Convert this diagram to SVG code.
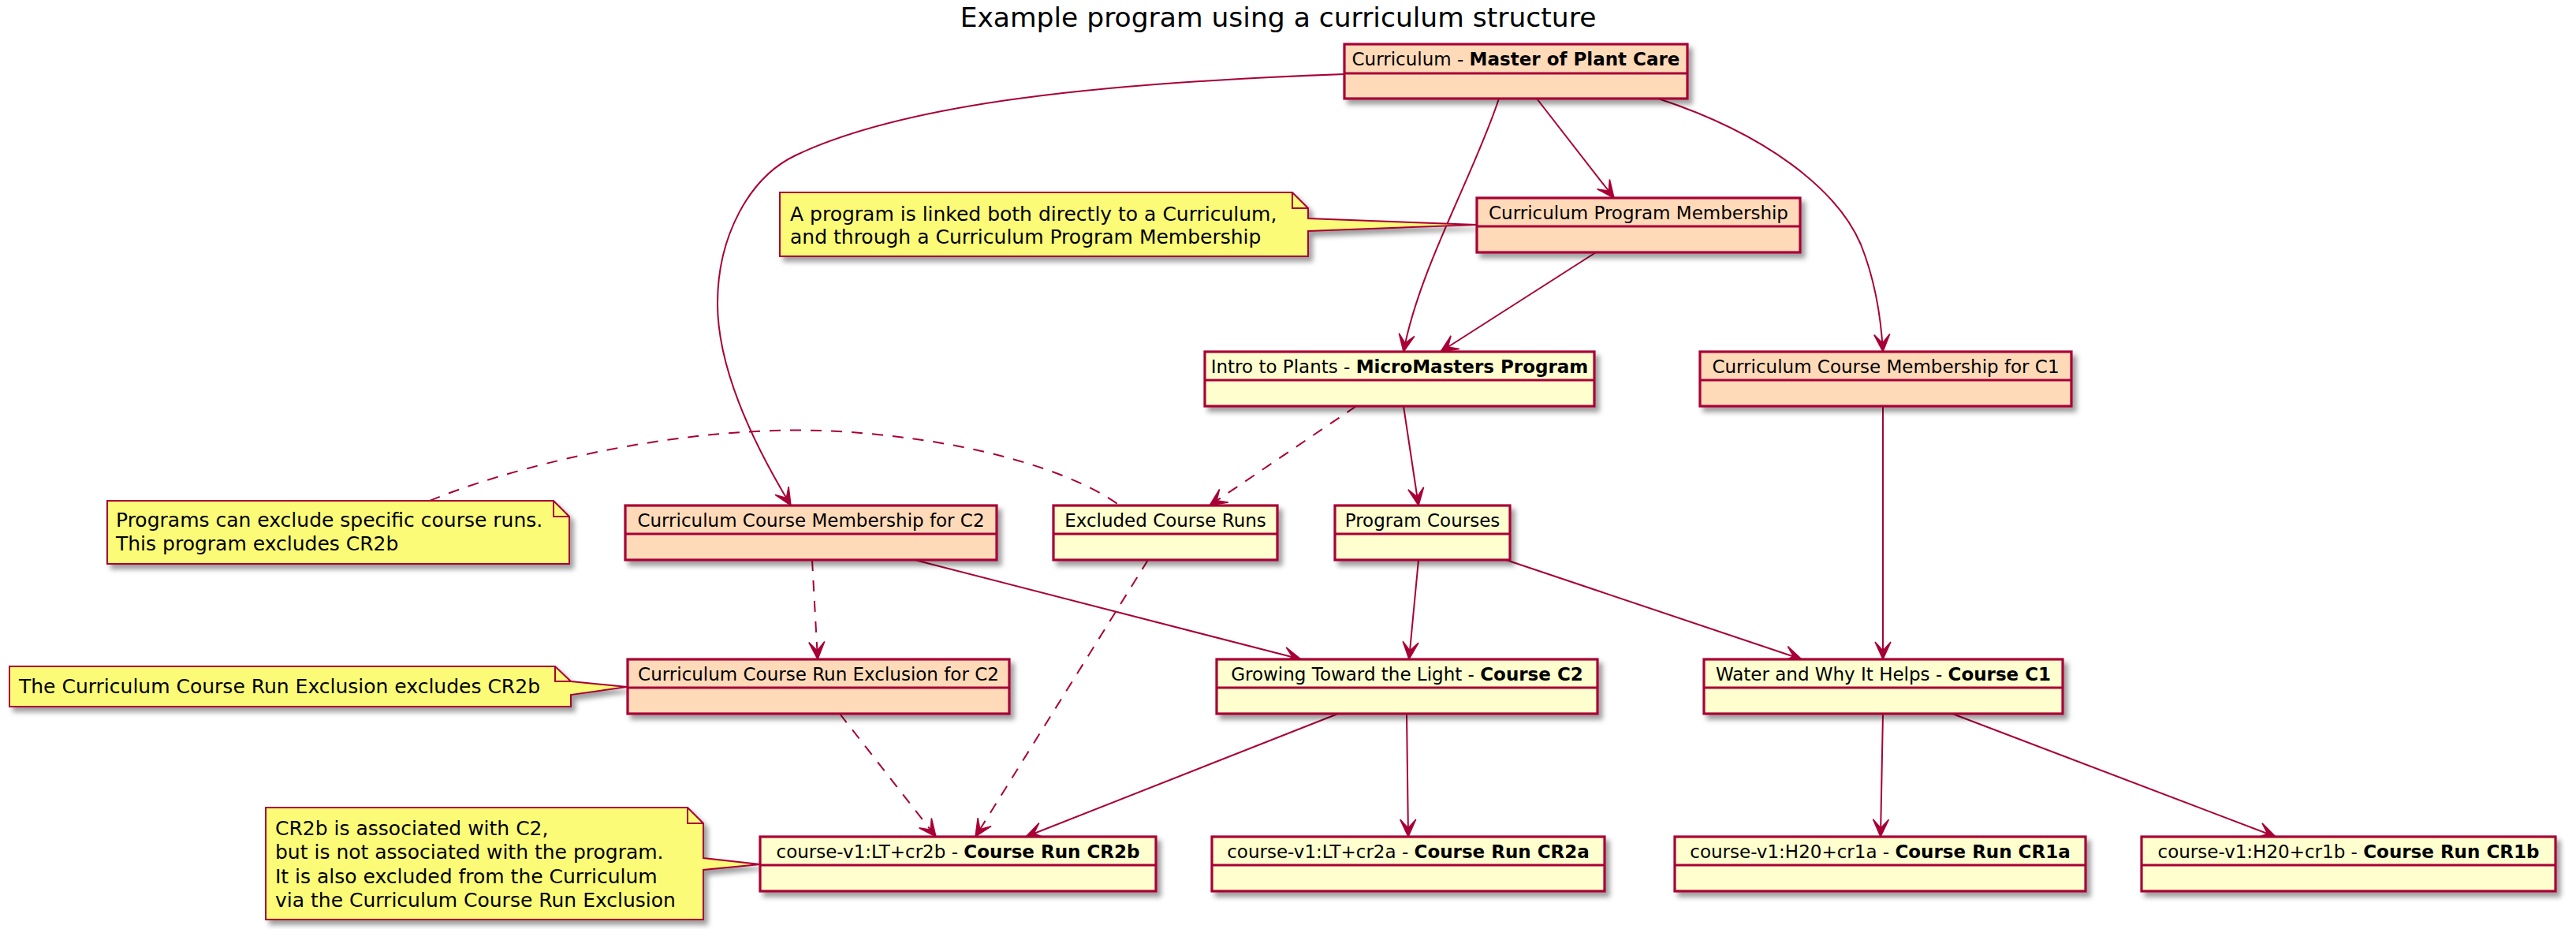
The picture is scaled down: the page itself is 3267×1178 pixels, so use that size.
<svg xmlns="http://www.w3.org/2000/svg" width="3267" height="1178" viewBox="0 0 3267 1178">
<defs>
<filter id="sh" x="-10%" y="-20%" width="130%" height="160%">
<feDropShadow dx="5" dy="6" stdDeviation="3" flood-color="#000" flood-opacity="0.38"/>
</filter>
<marker id="ah" markerUnits="userSpaceOnUse" orient="auto" markerWidth="26" markerHeight="24" viewBox="-24 -12 26 24" refX="0" refY="0" overflow="visible">
<path d="M0,0 L-22,-10 L-11,0 L-22,10 Z" fill="#A80036" stroke="#A80036" stroke-width="1.5" stroke-linejoin="miter"/>
</marker>
</defs>
<style>
.bx{stroke:#A80036;stroke-width:3.2;filter:url(#sh)}
.pe{fill:#FFDAB9}
.ye{fill:#FEFECE}
.dv{stroke:#A80036;stroke-width:3.2}
.nm{font-family:"DejaVu Sans","Liberation Sans",sans-serif;font-size:23px;fill:#000;text-anchor:middle}
.b{font-weight:bold}
.nt{fill:#FBFB77;stroke:#A80036;stroke-width:2;filter:url(#sh)}
.nf{fill:none;stroke:#A80036;stroke-width:2}
.ntx{font-family:"DejaVu Sans","Liberation Sans",sans-serif;font-size:25px;fill:#000}
.ln{fill:none;stroke:#A80036;stroke-width:2}
.ar{marker-end:url(#ah)}
.da{stroke-dasharray:14,12}
.ttl{font-family:"DejaVu Sans","Liberation Sans",sans-serif;font-size:34.5px;fill:#000;text-anchor:middle}
</style>
<rect width="3267" height="1178" fill="#FFFFFF"/>
<text class="ttl" x="1621" y="34">Example program using a curriculum structure</text>

<g id="connectors">
<path class="ln ar" d="M1949,125 L2047,251"/>
<path class="ln ar" d="M1901,125 C1870,220 1800,340 1780,446"/>
<path class="ln ar" d="M2024,320 L1827,446"/>
<path class="ln ar" d="M2103,125 C2240,170 2330,240 2360,310 C2380,360 2386,410 2388,446"/>
<path class="ln ar" d="M1705,94 C1400,105 1150,130 1009,197 C950,225 910,300 910,385 C910,470 960,570 1003,641"/>
<path class="ln ar da" d="M1720,515 L1534,641"/>
<path class="ln ar" d="M1780,515 L1799,641"/>
<path class="ln da" d="M545,635 C640,595 850,540 1041,546 C1200,552 1350,590 1420,641"/>
<path class="ln ar da" d="M1030,710 L1037,836"/>
<path class="ln ar" d="M1160,710 L1650,836"/>
<path class="ln ar da" d="M1456,710 L1237,1061"/>
<path class="ln ar da" d="M1065,905 L1187,1061"/>
<path class="ln ar" d="M1697,905 L1301,1061"/>
<path class="ln ar" d="M1799,710 L1787,836"/>
<path class="ln ar" d="M1910,710 L2285,836"/>
<path class="ln ar" d="M2388,515 L2388,836"/>
<path class="ln ar" d="M1784,905 L1786,1061"/>
<path class="ln ar" d="M2388,905 L2385,1061"/>
<path class="ln ar" d="M2476,905 L2886,1061"/>
</g>

<g id="note-linked">
<path class="nt" d="M989,244 L1639,244 L1659,264 L1659,277 L1873,285 L1659,293 L1659,325 L989,325 Z"/>
<path class="nf" d="M1639,244 L1639,264 L1659,264"/>
<text class="ntx" x="1002" y="280">A program is linked both directly to a Curriculum,</text>
<text class="ntx" x="1002" y="309">and through a Curriculum Program Membership</text>
</g>
<g id="note-exclude">
<path class="nt" d="M136,635 L702,635 L722,655 L722,715 L136,715 Z"/>
<path class="nf" d="M702,635 L702,655 L722,655"/>
<text class="ntx" x="147" y="668">Programs can exclude specific course runs.</text>
<text class="ntx" x="147" y="698">This program excludes CR2b</text>
</g>
<g id="note-ccre">
<path class="nt" d="M12,845 L704,845 L724,864 L795,871 L724,881 L724,896 L12,896 Z"/>
<path class="nf" d="M704,845 L704,864 L724,864"/>
<text class="ntx" x="24" y="879">The Curriculum Course Run Exclusion excludes CR2b</text>
</g>
<g id="note-cr2b">
<path class="nt" d="M337,1024 L872,1024 L892,1044 L892,1088 L964,1096 L892,1103 L892,1166 L337,1166 Z"/>
<path class="nf" d="M872,1024 L872,1044 L892,1044"/>
<text class="ntx" x="349" y="1059">CR2b is associated with C2,</text>
<text class="ntx" x="349" y="1089">but is not associated with the program.</text>
<text class="ntx" x="349" y="1120">It is also excluded from the Curriculum</text>
<text class="ntx" x="349" y="1150">via the Curriculum Course Run Exclusion</text>
</g>

<g id="curriculum">
<rect class="bx pe" x="1705" y="56" width="435" height="69"/>
<line class="dv" x1="1705" y1="93" x2="2140" y2="93"/>
<text class="nm" x="1922.5" y="83">Curriculum - <tspan class="b">Master of Plant Care</tspan></text>
</g>
<g id="cpm">
<rect class="bx pe" x="1873" y="251" width="410" height="69"/>
<line class="dv" x1="1873" y1="287" x2="2283" y2="287"/>
<text class="nm" x="2078" y="278">Curriculum Program Membership</text>
</g>
<g id="program">
<rect class="bx ye" x="1528" y="446" width="494" height="69"/>
<line class="dv" x1="1528" y1="482" x2="2022" y2="482"/>
<text class="nm" x="1775" y="473">Intro to Plants - <tspan class="b">MicroMasters Program</tspan></text>
</g>
<g id="ccm-c1">
<rect class="bx pe" x="2156" y="446" width="471" height="69"/>
<line class="dv" x1="2156" y1="482" x2="2627" y2="482"/>
<text class="nm" x="2391.5" y="473">Curriculum Course Membership for C1</text>
</g>
<g id="ccm-c2">
<rect class="bx pe" x="793" y="641" width="471" height="69"/>
<line class="dv" x1="793" y1="677" x2="1264" y2="677"/>
<text class="nm" x="1028.5" y="668">Curriculum Course Membership for C2</text>
</g>
<g id="excluded">
<rect class="bx ye" x="1336" y="641" width="284" height="69"/>
<line class="dv" x1="1336" y1="677" x2="1620" y2="677"/>
<text class="nm" x="1478" y="668">Excluded Course Runs</text>
</g>
<g id="program-courses">
<rect class="bx ye" x="1693" y="641" width="222" height="69"/>
<line class="dv" x1="1693" y1="677" x2="1915" y2="677"/>
<text class="nm" x="1804" y="668">Program Courses</text>
</g>
<g id="ccre-c2">
<rect class="bx pe" x="796" y="836" width="484" height="69"/>
<line class="dv" x1="796" y1="872" x2="1280" y2="872"/>
<text class="nm" x="1038" y="863">Curriculum Course Run Exclusion for C2</text>
</g>
<g id="course-c2">
<rect class="bx ye" x="1543" y="836" width="483" height="69"/>
<line class="dv" x1="1543" y1="872" x2="2026" y2="872"/>
<text class="nm" x="1784.5" y="863">Growing Toward the Light - <tspan class="b">Course C2</tspan></text>
</g>
<g id="course-c1">
<rect class="bx ye" x="2161" y="836" width="455" height="69"/>
<line class="dv" x1="2161" y1="872" x2="2616" y2="872"/>
<text class="nm" x="2388.5" y="863">Water and Why It Helps - <tspan class="b">Course C1</tspan></text>
</g>
<g id="run-cr2b">
<rect class="bx ye" x="964" y="1061" width="502" height="69"/>
<line class="dv" x1="964" y1="1097" x2="1466" y2="1097"/>
<text class="nm" x="1215" y="1088">course-v1:LT+cr2b - <tspan class="b">Course Run CR2b</tspan></text>
</g>
<g id="run-cr2a">
<rect class="bx ye" x="1537" y="1061" width="498" height="69"/>
<line class="dv" x1="1537" y1="1097" x2="2035" y2="1097"/>
<text class="nm" x="1786" y="1088">course-v1:LT+cr2a - <tspan class="b">Course Run CR2a</tspan></text>
</g>
<g id="run-cr1a">
<rect class="bx ye" x="2124" y="1061" width="521" height="69"/>
<line class="dv" x1="2124" y1="1097" x2="2645" y2="1097"/>
<text class="nm" x="2384.5" y="1088">course-v1:H20+cr1a - <tspan class="b">Course Run CR1a</tspan></text>
</g>
<g id="run-cr1b">
<rect class="bx ye" x="2716" y="1061" width="525" height="69"/>
<line class="dv" x1="2716" y1="1097" x2="3241" y2="1097"/>
<text class="nm" x="2978.5" y="1088">course-v1:H20+cr1b - <tspan class="b">Course Run CR1b</tspan></text>
</g>
</svg>
